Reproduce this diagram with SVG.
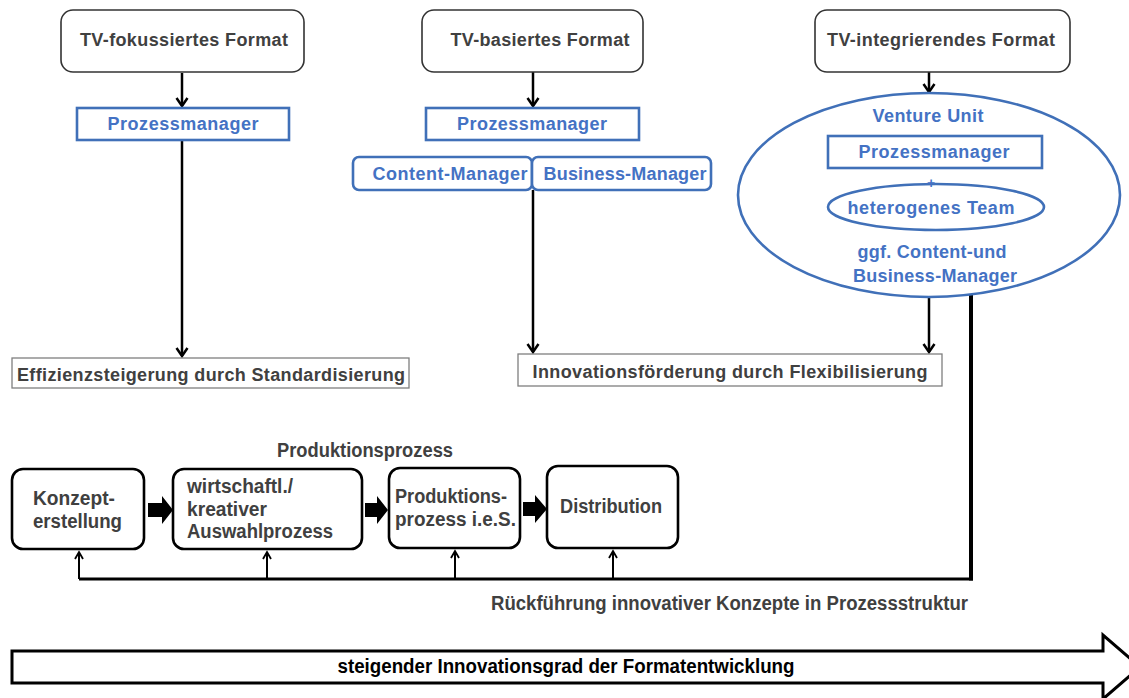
<svg xmlns="http://www.w3.org/2000/svg" width="1129" height="698" viewBox="0 0 1129 698">
<style>
.fmt{fill:#fff;stroke:#333;stroke-width:1.6}
.blue{fill:#fff;stroke:#4070B8;stroke-width:2.6}
.res{fill:#fff;stroke:#7f7f7f;stroke-width:1.3}
.proc{fill:#fff;stroke:#000;stroke-width:2.6}
.t{font-family:"Liberation Sans",Arial,sans-serif;font-weight:bold;font-size:18px;fill:#404040}
.tb{font-family:"Liberation Sans",Arial,sans-serif;font-weight:bold;font-size:18px;fill:#4472C4}
.tn{font-family:"Liberation Sans",Arial,sans-serif;font-weight:bold;font-size:20px;fill:#404040}
.c{fill:none;stroke:#000;stroke-width:2.5}
.cs{fill:none;stroke:#000;stroke-width:2}
</style>
<defs>
<marker id="ah" markerUnits="userSpaceOnUse" viewBox="-10 -7 12 14" refX="0" refY="0" markerWidth="12" markerHeight="14" orient="auto" overflow="visible">
<path d="M-8,-5.5 L0,0 L-8,5.5" fill="none" stroke="#000" stroke-width="2.5"/>
</marker>
<marker id="ahs" markerUnits="userSpaceOnUse" viewBox="-8 -5 10 10" refX="0" refY="0" markerWidth="10" markerHeight="10" orient="auto" overflow="visible">
<path d="M-7,-4 L0,0 L-7,4" fill="none" stroke="#000" stroke-width="1.8"/>
</marker>
</defs>

<g id="connectors">
<line class="c" x1="182" y1="73" x2="182" y2="106" marker-end="url(#ah)"/>
<line class="c" x1="182" y1="141" x2="182" y2="356" marker-end="url(#ah)"/>
<line class="c" x1="533" y1="72" x2="533" y2="106" marker-end="url(#ah)"/>
<line class="c" x1="533" y1="190" x2="533" y2="352" marker-end="url(#ah)"/>
<line class="c" x1="929" y1="72" x2="929" y2="92" marker-end="url(#ah)"/>
<line class="c" x1="929" y1="297" x2="929" y2="352" marker-end="url(#ah)"/>
<line x1="971" y1="295" x2="971" y2="580.5" stroke="#000" stroke-width="4"/>
<line x1="79" y1="579" x2="973" y2="579" stroke="#000" stroke-width="3"/>
<line class="cs" x1="79" y1="579" x2="79" y2="552" marker-end="url(#ahs)"/>
<line class="cs" x1="267" y1="579" x2="267" y2="552" marker-end="url(#ahs)"/>
<line class="cs" x1="455" y1="579" x2="455" y2="551" marker-end="url(#ahs)"/>
<line class="cs" x1="613" y1="579" x2="613" y2="551" marker-end="url(#ahs)"/>
<polygon points="148,503 162,503 162,496 173,510 162,524 162,517 148,517" fill="#000"/>
<polygon points="365,503 377,503 377,496 388,510 377,524 377,517 365,517" fill="#000"/>
<polygon points="523,502 535,502 535,495 547,509 535,523 535,516 523,516" fill="#000"/>
</g>

<g id="n-tv-fokus">
<rect class="fmt" x="61" y="10" width="243" height="62" rx="12"/>
<text class="t" x="184" y="46" text-anchor="middle" textLength="208">TV-fokussiertes Format</text>
</g>
<g id="n-pm1">
<rect class="blue" x="77" y="108" width="212" height="32"/>
<text class="tb" x="183" y="130" text-anchor="middle" textLength="151">Prozessmanager</text>
</g>
<g id="n-effizienz">
<rect class="res" x="12" y="358" width="397" height="30"/>
<text class="t" x="211" y="381" text-anchor="middle" textLength="388">Effizienzsteigerung durch Standardisierung</text>
</g>

<g id="n-tv-basiert">
<rect class="fmt" x="422" y="10" width="221" height="62" rx="12"/>
<text class="t" x="540" y="46" text-anchor="middle" textLength="179">TV-basiertes Format</text>
</g>
<g id="n-pm2">
<rect class="blue" x="426" y="108" width="213" height="32"/>
<text class="tb" x="532" y="130" text-anchor="middle" textLength="150">Prozessmanager</text>
</g>
<g id="n-content">
<rect class="blue" x="353" y="157" width="179" height="33" rx="6"/>
<text class="tb" x="450" y="180" text-anchor="middle" textLength="155">Content-Manager</text>
</g>
<g id="n-business">
<rect class="blue" x="532" y="157" width="179" height="33" rx="6"/>
<text class="tb" x="625" y="180" text-anchor="middle" textLength="163">Business-Manager</text>
</g>
<g id="n-innovation">
<rect class="res" x="518" y="354" width="424" height="32"/>
<text class="t" x="730" y="378" text-anchor="middle" textLength="395">Innovationsförderung durch Flexibilisierung</text>
</g>

<g id="n-tv-integ">
<rect class="fmt" x="815" y="10" width="255" height="62" rx="12"/>
<text class="t" x="941" y="46" text-anchor="middle" textLength="228">TV-integrierendes Format</text>
</g>
<g id="n-venture">
<ellipse cx="929" cy="195" rx="191" ry="102" fill="#fff" stroke="#4070B8" stroke-width="2.6"/>
<text class="tb" x="928" y="122" text-anchor="middle" textLength="111">Venture Unit</text>
<rect class="blue" x="828" y="136" width="214" height="32"/>
<text class="tb" x="934" y="158" text-anchor="middle" textLength="151">Prozessmanager</text>
<ellipse cx="936" cy="207" rx="108" ry="23" fill="none" stroke="#4070B8" stroke-width="2.6"/>
<text x="931" y="188" text-anchor="middle" font-family="Liberation Sans, Arial, sans-serif" font-weight="bold" font-size="14" fill="#4472C4">+</text>
<text class="tb" x="931" y="214" text-anchor="middle" textLength="167">heterogenes Team</text>
<text class="tb" x="932" y="258" text-anchor="middle" textLength="149">ggf. Content-und</text>
<text class="tb" x="935" y="282" text-anchor="middle" textLength="164">Business-Manager</text>
</g>

<text class="tn" x="365" y="457" text-anchor="middle" textLength="176" lengthAdjust="spacingAndGlyphs">Produktionsprozess</text>

<g id="n-konzept">
<rect class="proc" x="12" y="469" width="132" height="80" rx="11"/>
<text class="tn" x="33" y="505" textLength="82" lengthAdjust="spacingAndGlyphs">Konzept-</text>
<text class="tn" x="33" y="528" textLength="89" lengthAdjust="spacingAndGlyphs">erstellung</text>
</g>
<g id="n-auswahl">
<rect class="proc" x="173" y="469" width="189" height="80" rx="11"/>
<text class="tn" x="187" y="493" textLength="106" lengthAdjust="spacingAndGlyphs">wirtschaftl./</text>
<text class="tn" x="187" y="516" textLength="80" lengthAdjust="spacingAndGlyphs">kreativer</text>
<text class="tn" x="187" y="538" textLength="146" lengthAdjust="spacingAndGlyphs">Auswahlprozess</text>
</g>
<g id="n-produktion">
<rect class="proc" x="389" y="468" width="131" height="80" rx="11"/>
<text class="tn" x="395" y="503" textLength="112" lengthAdjust="spacingAndGlyphs">Produktions-</text>
<text class="tn" x="395" y="526" textLength="121" lengthAdjust="spacingAndGlyphs">prozess i.e.S.</text>
</g>
<g id="n-distribution">
<rect class="proc" x="547" y="466" width="131" height="82" rx="11"/>
<text class="tn" x="560" y="513" textLength="102" lengthAdjust="spacingAndGlyphs">Distribution</text>
</g>

<text class="tn" x="491" y="610" textLength="477" lengthAdjust="spacingAndGlyphs">Rückführung innovativer Konzepte in Prozessstruktur</text>

<g id="n-innovationsgrad">
<polygon points="12,651 1103,651 1103,635 1140,667 1103,699 1103,683 12,683" fill="#fff" stroke="#000" stroke-width="3"/>
<text x="566" y="673" text-anchor="middle" textLength="457" lengthAdjust="spacingAndGlyphs" font-family="Liberation Sans, Arial, sans-serif" font-weight="bold" font-size="20" fill="#000">steigender Innovationsgrad der Formatentwicklung</text>
</g>
</svg>
